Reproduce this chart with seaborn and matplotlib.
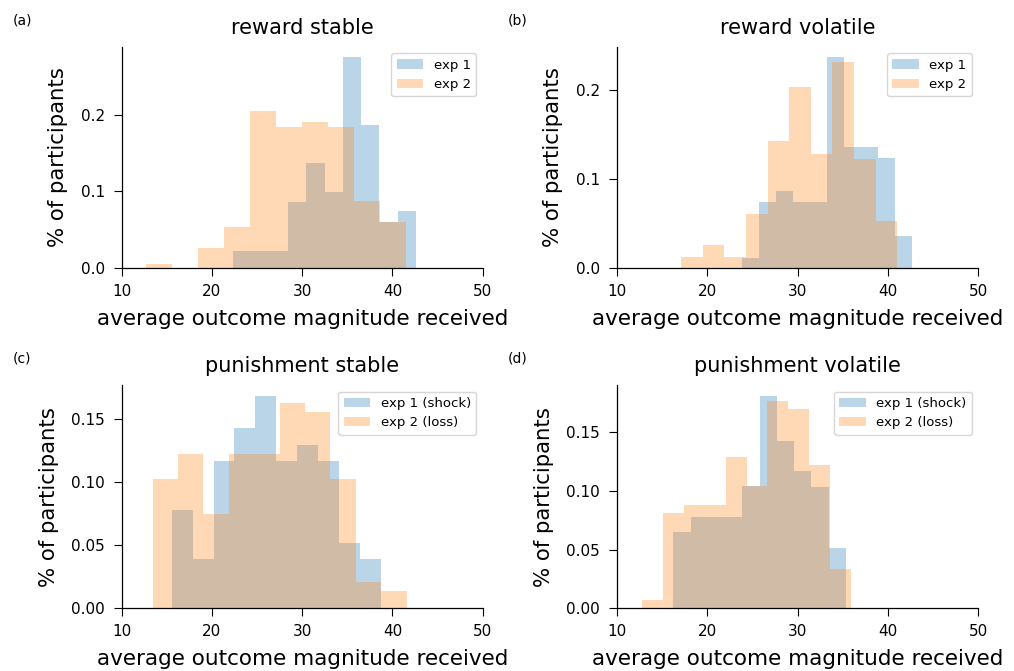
import numpy as np
import pandas as pd
import matplotlib
matplotlib.use("Agg")
import matplotlib.pyplot as plt
from matplotlib.ticker import MaxNLocator
import seaborn as sns
from matplotlib.patches import Patch

# ---------------- data ----------------
panel_titles = ["reward stable", "reward volatile", "punishment stable", "punishment volatile"]
panel_tags = ["(a)", "(b)", "(c)", "(d)"]
legend_reward = ["exp 1", "exp 2"]
legend_punish = ["exp 1 (shock)", "exp 2 (loss)"]
x_label = "average outcome magnitude received"
y_label = "% of participants"
x_ticks = [10, 20, 30, 40, 50]

# each series: [min, max] of its 10 equal bins, and the bin heights (fraction of participants)
rs_exp1_range = [22.37, 42.61]
rs_exp1 = [0.0231, 0.0231, 0.0231, 0.0863, 0.1364, 0.0989, 0.2745, 0.1869, 0.0601, 0.0741]
rs_exp2_range = [12.66, 41.50]
rs_exp2 = [0.0057, 0.0, 0.0261, 0.0536, 0.2044, 0.1834, 0.1900, 0.1834, 0.0880, 0.0601]

rv_exp1_range = [23.90, 42.63]
rv_exp1 = [0.0120, 0.0744, 0.0872, 0.0744, 0.0744, 0.2368, 0.1365, 0.1365, 0.1240, 0.0365]
rv_exp2_range = [17.12, 41.04]
rv_exp2 = [0.0124, 0.0259, 0.0124, 0.0609, 0.1429, 0.2038, 0.1286, 0.2312, 0.1222, 0.0534]

ps_exp1_range = [15.54, 38.70]
ps_exp1 = [0.0777, 0.0391, 0.1170, 0.1428, 0.1689, 0.1170, 0.1295, 0.1170, 0.0519, 0.0391]
ps_exp2_range = [13.43, 41.58]
ps_exp2 = [0.1024, 0.1223, 0.0747, 0.1223, 0.1223, 0.1630, 0.1561, 0.1024, 0.0207, 0.0138]

pv_exp1_range = [16.27, 35.36]
pv_exp1 = [0.0649, 0.0780, 0.0780, 0.0780, 0.1043, 0.1809, 0.1426, 0.1166, 0.1034, 0.0514]
pv_exp2_range = [12.84, 35.88]
pv_exp2 = [0.0069, 0.0814, 0.0880, 0.0880, 0.1289, 0.1043, 0.1763, 0.1694, 0.1220, 0.0337]

panels = [
    (rs_exp1_range, rs_exp1, rs_exp2_range, rs_exp2, legend_reward),
    (rv_exp1_range, rv_exp1, rv_exp2_range, rv_exp2, legend_reward),
    (ps_exp1_range, ps_exp1, ps_exp2_range, ps_exp2, legend_punish),
    (pv_exp1_range, pv_exp1, pv_exp2_range, pv_exp2, legend_punish),
]

# ---------------- style ----------------
sns.set_style("ticks")
plt.rcParams.update({
    "font.family": ["DejaVu Sans"],
    "axes.edgecolor": "black",
    "text.color": "black",
    "axes.labelcolor": "black",
    "xtick.color": "black",
    "ytick.color": "black",
    "xtick.labelsize": 11,
    "ytick.labelsize": 11,
    "xtick.major.size": 5.5,
    "ytick.major.size": 5.5,
    "xtick.major.pad": 6,
    "ytick.major.pad": 6.5,
    "axes.linewidth": 0.9,
})

W, H = 1014, 671
fig = plt.figure(figsize=(W / 100, H / 100), dpi=100)

positions = [
    [121.7 / W, 1 - 268.3 / H, 361.0 / W, 221.6 / H],
    [616.7 / W, 1 - 268.3 / H, 361.6 / W, 221.6 / H],
    [121.7 / W, 1 - 608.3 / H, 361.0 / W, 223.3 / H],
    [616.7 / W, 1 - 608.3 / H, 361.6 / W, 223.3 / H],
]
tag_pos = [(13, 20), (508, 20), (13, 358), (508, 358)]
colors = ["#1f77b4", "#ff7f0e"]
alpha = 0.3

for i, (r1, h1, r2, h2, labels) in enumerate(panels):
    ax = fig.add_axes(positions[i])
    for rng, heights, col in ((r1, h1, colors[0]), (r2, h2, colors[1])):
        edges = np.linspace(rng[0], rng[1], len(heights) + 1)
        df = pd.DataFrame({"value": (edges[:-1] + edges[1:]) / 2,
                           "share": heights})
        sns.histplot(data=df, x="value", weights="share",
                     bins=[float(e) for e in edges], stat="count",
                     color=col, alpha=alpha, linewidth=0, edgecolor="none",
                     ax=ax)
    ax.set_xlim(10, 50)
    ax.set_xticks(x_ticks)
    ax.yaxis.set_major_locator(MaxNLocator(nbins=4, steps=[1, 2, 2.5, 5, 10]))
    ax.set_xlabel(x_label, fontsize=15.5, labelpad=7)
    ax.set_ylabel(y_label, fontsize=15.3, labelpad=9)
    ax.set_title(panel_titles[i], fontsize=15, pad=9)
    sns.despine(ax=ax)
    handles = [Patch(facecolor=colors[0], alpha=alpha, edgecolor="none"),
               Patch(facecolor=colors[1], alpha=alpha, edgecolor="none")]
    ax.legend(handles, labels, loc="upper right", fontsize=9.5)
    fig.text(tag_pos[i][0] / W, 1 - tag_pos[i][1] / H, panel_tags[i],
             fontsize=10, va="center", ha="left")

fig.savefig("out.png", dpi=100)
